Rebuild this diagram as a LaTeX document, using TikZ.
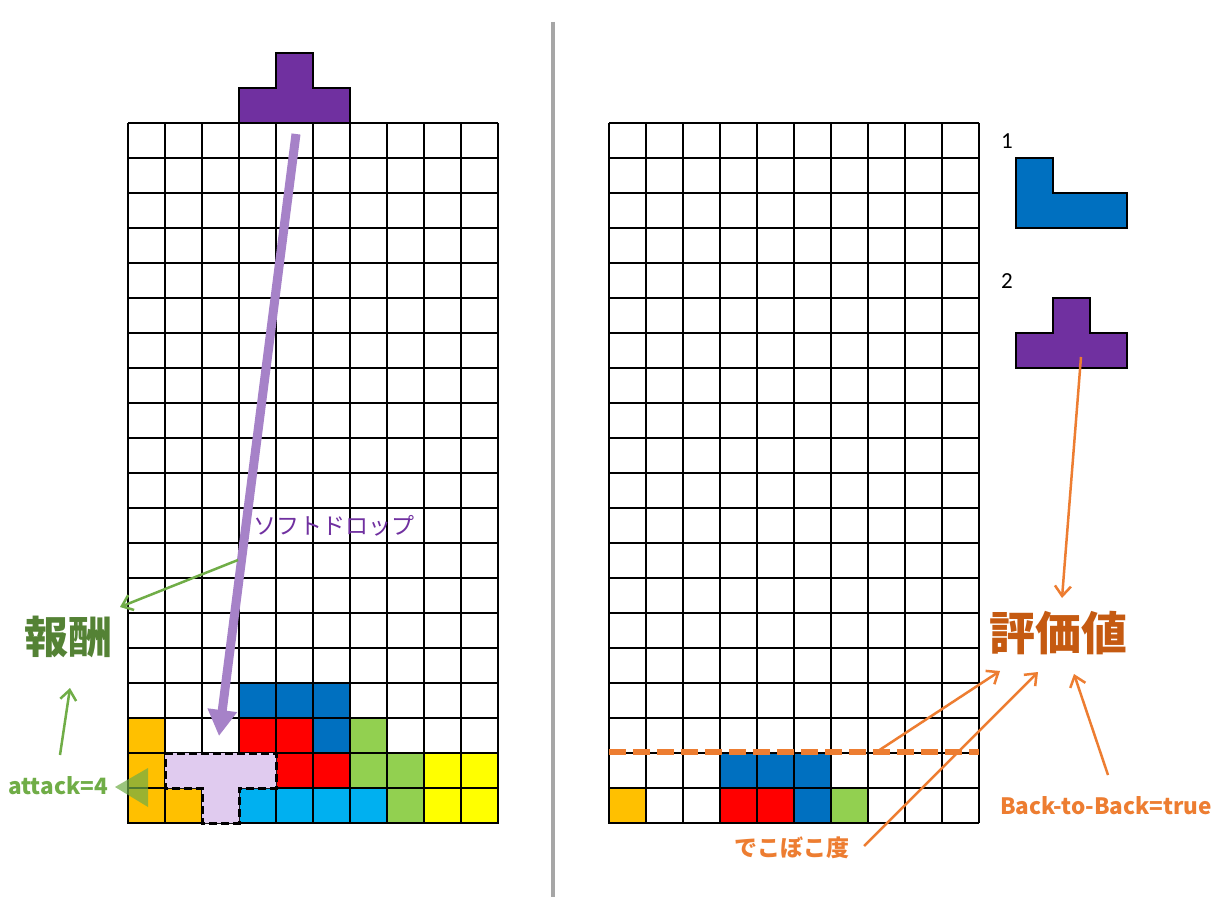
\documentclass[tikz,border=0pt]{standalone}
\usepackage{fontspec}
\newfontfamily\jpfont{Noto Sans CJK JP}
\newfontfamily\carlfont{Carlito}
\usetikzlibrary{arrows.meta}
\definecolor{tOrange}{HTML}{FFC000}
\definecolor{tBlue}{HTML}{0070C0}
\definecolor{tRed}{HTML}{FF0000}
\definecolor{tGreen}{HTML}{92D050}
\definecolor{tYellow}{HTML}{FFFF00}
\definecolor{tCyan}{HTML}{00B0F0}
\definecolor{tPurple}{HTML}{7030A0}
\definecolor{tLav}{HTML}{E0CBEF}
\definecolor{arrPurple}{HTML}{A682C8}
\definecolor{lGreen}{HTML}{70AD47}
\definecolor{dGreen}{HTML}{548235}
\definecolor{lOrange}{HTML}{ED7D31}
\definecolor{dOrange}{HTML}{C55A11}
\definecolor{sepGray}{HTML}{A6A6A6}
\newcommand\cellL[3]{\filldraw[cellst, fill=#3] ({128+37*#1},{123+35*#2}) rectangle ++(37,35);}
\newcommand\cellR[3]{\filldraw[cellst, fill=#3] ({609+37*#1},{123+35*#2}) rectangle ++(37,35);}
\begin{document}
\begin{tikzpicture}[x=1pt,y=-1pt,
  gridln/.style={line width=1.3pt, black},
  cellst/.style={line width=2.6pt, draw=black},
  piecest/.style={line width=2.6pt, draw=black},
  garr/.style={line width=2.5pt, lGreen, -{Straight Barb[length=10pt,width=16pt]}},
  oarr/.style={line width=2.5pt, lOrange, -{Straight Barb[length=10pt,width=16pt]}},
  lbl/.style={inner sep=0pt, font=\jpfont\bfseries}
]
\useasboundingbox (0,0) rectangle (1229,915);
\fill[white] (0,0) rectangle (1229,915);
% separator
\draw[line width=4pt, sepGray] (553,22) -- (553,897);
% grids
\foreach \i in {0,...,10} {
  \draw[gridln] ({128+37*\i},123) -- ({128+37*\i},823);
  \draw[gridln] ({609+37*\i},123) -- ({609+37*\i},823);
}
\foreach \j in {0,...,20} {
  \draw[gridln] (128,{123+35*\j}) -- (498,{123+35*\j});
  \draw[gridln] (609,{123+35*\j}) -- (979,{123+35*\j});
}
% left board
\cellL{3}{16}{tBlue}\cellL{4}{16}{tBlue}\cellL{5}{16}{tBlue}
\cellL{0}{17}{tOrange}\cellL{3}{17}{tRed}\cellL{4}{17}{tRed}\cellL{5}{17}{tBlue}\cellL{6}{17}{tGreen}
\cellL{0}{18}{tOrange}\cellL{4}{18}{tRed}\cellL{5}{18}{tRed}\cellL{6}{18}{tGreen}\cellL{7}{18}{tGreen}\cellL{8}{18}{tYellow}\cellL{9}{18}{tYellow}
\cellL{0}{19}{tOrange}\cellL{1}{19}{tOrange}\cellL{3}{19}{tCyan}\cellL{4}{19}{tCyan}\cellL{5}{19}{tCyan}\cellL{6}{19}{tCyan}\cellL{7}{19}{tGreen}\cellL{8}{19}{tYellow}\cellL{9}{19}{tYellow}
% ghost T piece
\filldraw[fill=tLav, draw=black, line width=3pt, dash pattern=on 8pt off 4pt]
  (165,753) -- (276,753) -- (276,788) -- (239,788) -- (239,823) -- (202,823) -- (202,788) -- (165,788) -- cycle;
% falling T piece
\filldraw[piecest, fill=tPurple]
  (239,88) -- (276,88) -- (276,53) -- (313,53) -- (313,88) -- (350,88) -- (350,123) -- (239,123) -- cycle;
% right board
\cellR{3}{18}{tBlue}\cellR{4}{18}{tBlue}\cellR{5}{18}{tBlue}
\cellR{0}{19}{tOrange}\cellR{3}{19}{tRed}\cellR{4}{19}{tRed}\cellR{5}{19}{tBlue}\cellR{6}{19}{tGreen}
% next pieces
\filldraw[piecest, fill=tBlue]
  (1016,158) -- (1053,158) -- (1053,193) -- (1127,193) -- (1127,228) -- (1016,228) -- cycle;
\filldraw[piecest, fill=tPurple]
  (1016,333) -- (1053,333) -- (1053,298) -- (1090,298) -- (1090,333) -- (1127,333) -- (1127,368) -- (1016,368) -- cycle;
\node[inner sep=0pt, font=\carlfont\fontsize{23}{25}\selectfont] (n1) at (1007,141) {1};
\node[inner sep=0pt, font=\carlfont\fontsize{23}{25}\selectfont] (n2) at (1007,281) {2};
% dashed height line
\coordinate (hA) at (609,752);
\coordinate (hB) at (979,752);
\draw[line width=6pt, lOrange, dash pattern=on 17pt off 7pt] (hA) -- (hB);
% labels
\node[inner sep=0pt, font=\jpfont\fontsize{23}{26}\selectfont, text=tPurple] (sd) at (334,526) {ソフトドロップ};
\node[lbl, font=\jpfont\bfseries\fontsize{44}{48}\selectfont, text=dGreen] (rew) at (68,637) {報酬};
\node[lbl, font=\jpfont\bfseries\fontsize{22.5}{26}\selectfont, text=lGreen] (atk) at (58,786) {attack=4};
\node[lbl, font=\jpfont\bfseries\fontsize{46}{50}\selectfont, text=dOrange] (ev) at (1058,633) {評価値};
\node[lbl, font=\jpfont\bfseries\fontsize{23}{26}\selectfont, text=lOrange] (dk) at (792,848) {でこぼこ度};
\node[lbl, font=\jpfont\bfseries\fontsize{22.5}{26}\selectfont, text=lOrange] (b2b) at (1106,806) {Back-to-Back=true};
% soft drop arrow
\coordinate (sdA) at (296,134);
\coordinate (sdB) at (219,736);
\draw[line width=9pt, arrPurple, -{Triangle[length=26pt,width=28pt]}] (sdA) -- (sdB);
% green arrows
\coordinate (gA) at (238,560);
\coordinate (gB) at (120,607);
\draw[garr] (gA) -- (gB);
\coordinate (gC) at (60,755);
\coordinate (gD) at (70,688);
\draw[garr] (gC) -- (gD);
\fill[lGreen, opacity=0.7] (115,787) -- (148,768) -- (148,807) -- cycle;
% orange arrows
\coordinate (oA1) at (878,751);
\coordinate (oB1) at (1000,671);
\draw[oarr] (oA1) -- (oB1);
\coordinate (oA2) at (864,846);
\coordinate (oB2) at (1038,672);
\draw[oarr] (oA2) -- (oB2);
\coordinate (oA3) at (1108,775);
\coordinate (oB3) at (1074,674);
\draw[oarr] (oA3) -- (oB3);
\coordinate (oA4) at (1081,357);
\coordinate (oB4) at (1062,598);
\draw[oarr] (oA4) -- (oB4);
\end{tikzpicture}
\end{document}
